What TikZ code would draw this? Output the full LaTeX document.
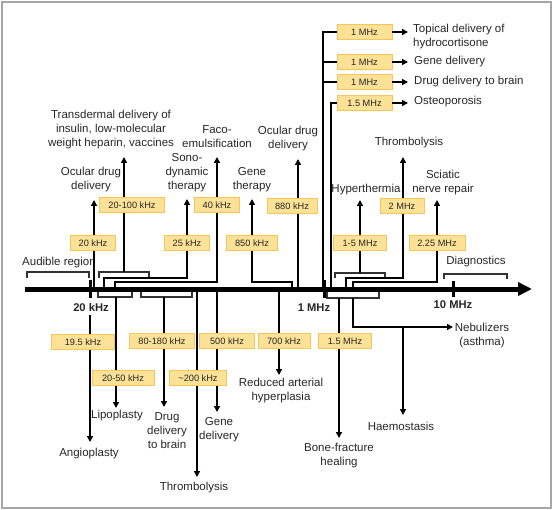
\documentclass[tikz,border=0pt]{standalone}
\usepackage{fontspec}
\setmainfont{Liberation Sans}
\usetikzlibrary{arrows.meta}
\definecolor{boxfill}{HTML}{FCE196}
\definecolor{boxline}{HTML}{F3C75A}
\definecolor{txt}{HTML}{262626}
\definecolor{framegray}{HTML}{A6A6A6}
\begin{document}
\begin{tikzpicture}[x=1pt,y=-1pt,
  lbl/.style={font=\fontsize{11.5}{14}\selectfont, align=center, text=txt, inner sep=0pt},
  freq/.style={draw=boxline, fill=boxfill, line width=0.8pt, font=\fontsize{9.2}{10}\selectfont, text=txt, minimum height=15pt, inner sep=0pt},
  ticklbl/.style={font=\bfseries\fontsize{11.2}{13}\selectfont, text=txt, inner sep=0pt},
  conn/.style={line width=1.4pt, black},
  arr/.style={conn, -{Triangle[length=6pt,width=6pt]}},
  brk/.style={line width=1.1pt, black!80},
  tickmark/.style={line width=3pt, black},
]
\useasboundingbox (0,0) rectangle (553,510);
\draw[framegray, line width=2pt] (1.5,2) rectangle (551,508);

% ---------- axis ----------
\coordinate (ax0) at (25,289);
\coordinate (ax1) at (532,289);
\draw[line width=5pt, -{Triangle[length=14pt,width=13pt]}] (ax0) -- (ax1);
\draw[tickmark] (90,280) -- (90,298);
\draw[tickmark] (324,280) -- (324,298);
\draw[tickmark] (453,281) -- (453,297);
\node[ticklbl] (T20) at (91,307) {20 kHz};
\node[ticklbl] (T1) at (314,308) {1 MHz};
\node[ticklbl] (T10) at (453,305) {10 MHz};

% ---------- labels above ----------
\node[lbl] (Laud) at (59,263) {Audible region};
\node[lbl] (Locu1) at (91,180) {Ocular drug\\delivery};
\node[lbl] (Ltrans) at (111,130) {Transdermal delivery of\\insulin, low-molecular\\weight heparin, vaccines};
\node[lbl] (Lsono) at (187,173) {Sono-\\dynamic\\therapy};
\node[lbl] (Lfaco) at (217,137) {Faco-\\emulsification};
\node[lbl] (Lgene) at (252,180) {Gene\\therapy};
\node[lbl] (Locu2) at (288,139) {Ocular drug\\delivery};
\node[lbl, align=left, anchor=west] (Ltop) at (413,37) {Topical delivery of\\hydrocortisone};
\node[lbl, anchor=west] (Lgd) at (414,62) {Gene delivery};
\node[lbl, anchor=west] (Ldb) at (414,82) {Drug delivery to brain};
\node[lbl, anchor=west] (Lost) at (414,102) {Osteoporosis};
\node[lbl] (Lhyp) at (366,190) {Hyperthermia};
\node[lbl] (Lthr) at (409,143) {Thrombolysis};
\node[lbl] (Lsci) at (443,183) {Sciatic\\nerve repair};
\node[lbl] (Ldia) at (476,262) {Diagnostics};

% ---------- labels below ----------
\node[lbl] (Lang) at (89,454) {Angioplasty};
\node[lbl] (Llip) at (117,416) {Lipoplasty};
\node[lbl] (Ldrug) at (167,431) {Drug\\delivery\\to brain};
\node[lbl] (Lthr2) at (194,488) {Thrombolysis};
\node[lbl] (Lgd2) at (219,430) {Gene\\delivery};
\node[lbl] (Lred) at (281,391) {Reduced arterial\\hyperplasia};
\node[lbl] (Lbone) at (339,456) {Bone-fracture\\healing};
\node[lbl] (Lneb) at (482,336) {Nebulizers\\(asthma)};
\node[lbl] (Lhae) at (401,426) {Haemostasis};

% ---------- brackets ----------
\draw[brk] (27,278) -- (27,272) -- (89,272) -- (89,278);
\draw[brk] (99,278) -- (99,272) -- (149,272) -- (149,278);
\draw[brk] (335,278) -- (335,273) -- (385,273) -- (385,278);
\draw[brk] (444,279) -- (444,274) -- (507,274) -- (507,279);
\draw[brk] (98,292) -- (98,297) -- (132,297) -- (132,292);
\draw[brk] (141,292) -- (141,297) -- (192,297) -- (192,292);
\draw[brk] (327,292) -- (327,298) -- (379,298) -- (379,292);

% ---------- connectors above ----------
\coordinate (a20) at (94,289);   \coordinate (t20) at (94,200);
\draw[arr] (a20) -- (t20);
\coordinate (btr) at (124,272);  \coordinate (ttr) at (124,157);
\draw[arr] (btr) -- (ttr);
\coordinate (a25) at (104,289);  \coordinate (t25) at (187,199);
\draw[arr] (a25) |- (187,278) -- (t25);
\coordinate (a40) at (115,289);  \coordinate (t40) at (217,157);
\draw[arr] (a40) |- (217,282) -- (t40);
\coordinate (a850) at (292,289); \coordinate (t850) at (252,199);
\draw[arr] (a850) |- (252,282) -- (t850);
\coordinate (a880) at (298,289); \coordinate (t880) at (298,159);
\draw[arr] (a880) -- (t880);
\coordinate (a1M) at (323,289);
\draw[conn] (a1M) |- (337,32);
\draw[conn] (323,62) -- (337,62);
\draw[conn] (323,82) -- (337,82);
\coordinate (a15) at (331,289);
\draw[conn] (a15) |- (337,103);
\coordinate (bhy) at (360,273);  \coordinate (thy) at (360,200);
\draw[arr] (bhy) -- (thy);
\coordinate (a2M) at (346,289);  \coordinate (t2M) at (403,157);
\draw[arr] (a2M) |- (403,278) -- (t2M);
\coordinate (a225) at (353,289); \coordinate (t225) at (437,200);
\draw[arr] (a225) |- (437,282) -- (t225);

% ---------- connectors below ----------
\draw[arr] (T20.south -| 90,0) ++(0,4) -- (90,442);
\draw[arr] (116,297) -- (116,408);
\draw[arr] (164,297) -- (164,407);
\coordinate (a200) at (197,289); \draw[arr] (a200) -- (197,477);
\coordinate (a500) at (217,289); \draw[arr] (a500) -- (217,412);
\coordinate (a700) at (279,289); \draw[arr] (a700) -- (279,375);
\draw[arr] (339,298) -- (339,438);
\coordinate (nb) at (403,327);
\draw[arr] (353,298) |- (453,327);
\draw[arr] (nb) -- (403,415);

% ---------- frequency boxes ----------
\node[freq, minimum width=45pt] (f20) at (93,243) {20 kHz};
\node[freq, minimum width=65pt] (f20100) at (132,205) {20-100 kHz};
\node[freq, minimum width=45pt] (f25) at (187,243) {25 kHz};
\node[freq, minimum width=45pt] (f40) at (217,205) {40 kHz};
\node[freq, minimum width=51pt] (f850) at (252,243) {850 kHz};
\node[freq, minimum width=50pt] (f880) at (292,206) {880 kHz};
\node[freq, minimum width=55pt] (f1a) at (364.5,32) {1 MHz};
\node[freq, minimum width=55pt] (f1b) at (364.5,62) {1 MHz};
\node[freq, minimum width=55pt] (f1c) at (364.5,82) {1 MHz};
\node[freq, minimum width=55pt] (f15a) at (364.5,103) {1.5 MHz};
\node[freq, minimum width=53pt] (f15) at (360,243) {1-5 MHz};
\node[freq, minimum width=44pt] (f2) at (402,206) {2 MHz};
\node[freq, minimum width=56pt] (f225) at (437,243) {2.25 MHz};
\node[freq, minimum width=63pt] (f195) at (83,342) {19.5 kHz};
\node[freq, minimum width=62pt] (f2050) at (123,378) {20-50 kHz};
\node[freq, minimum width=65pt] (f80) at (162,341) {80-180 kHz};
\node[freq, minimum width=57pt] (f200) at (198,378) {\textasciitilde200 kHz};
\node[freq, minimum width=55pt] (f500) at (227,341) {500 kHz};
\node[freq, minimum width=52pt] (f700) at (284,341) {700 kHz};
\node[freq, minimum width=53pt] (f15b) at (345,341) {1.5 MHz};

% arrows from the 1 MHz boxes to their labels
\draw[arr] (f1a.east) -- (408,32);
\draw[arr] (f1b.east) -- (408,62);
\draw[arr] (f1c.east) -- (408,82);
\draw[arr] (f15a.east) -- (408,103);
\end{tikzpicture}
\end{document}
